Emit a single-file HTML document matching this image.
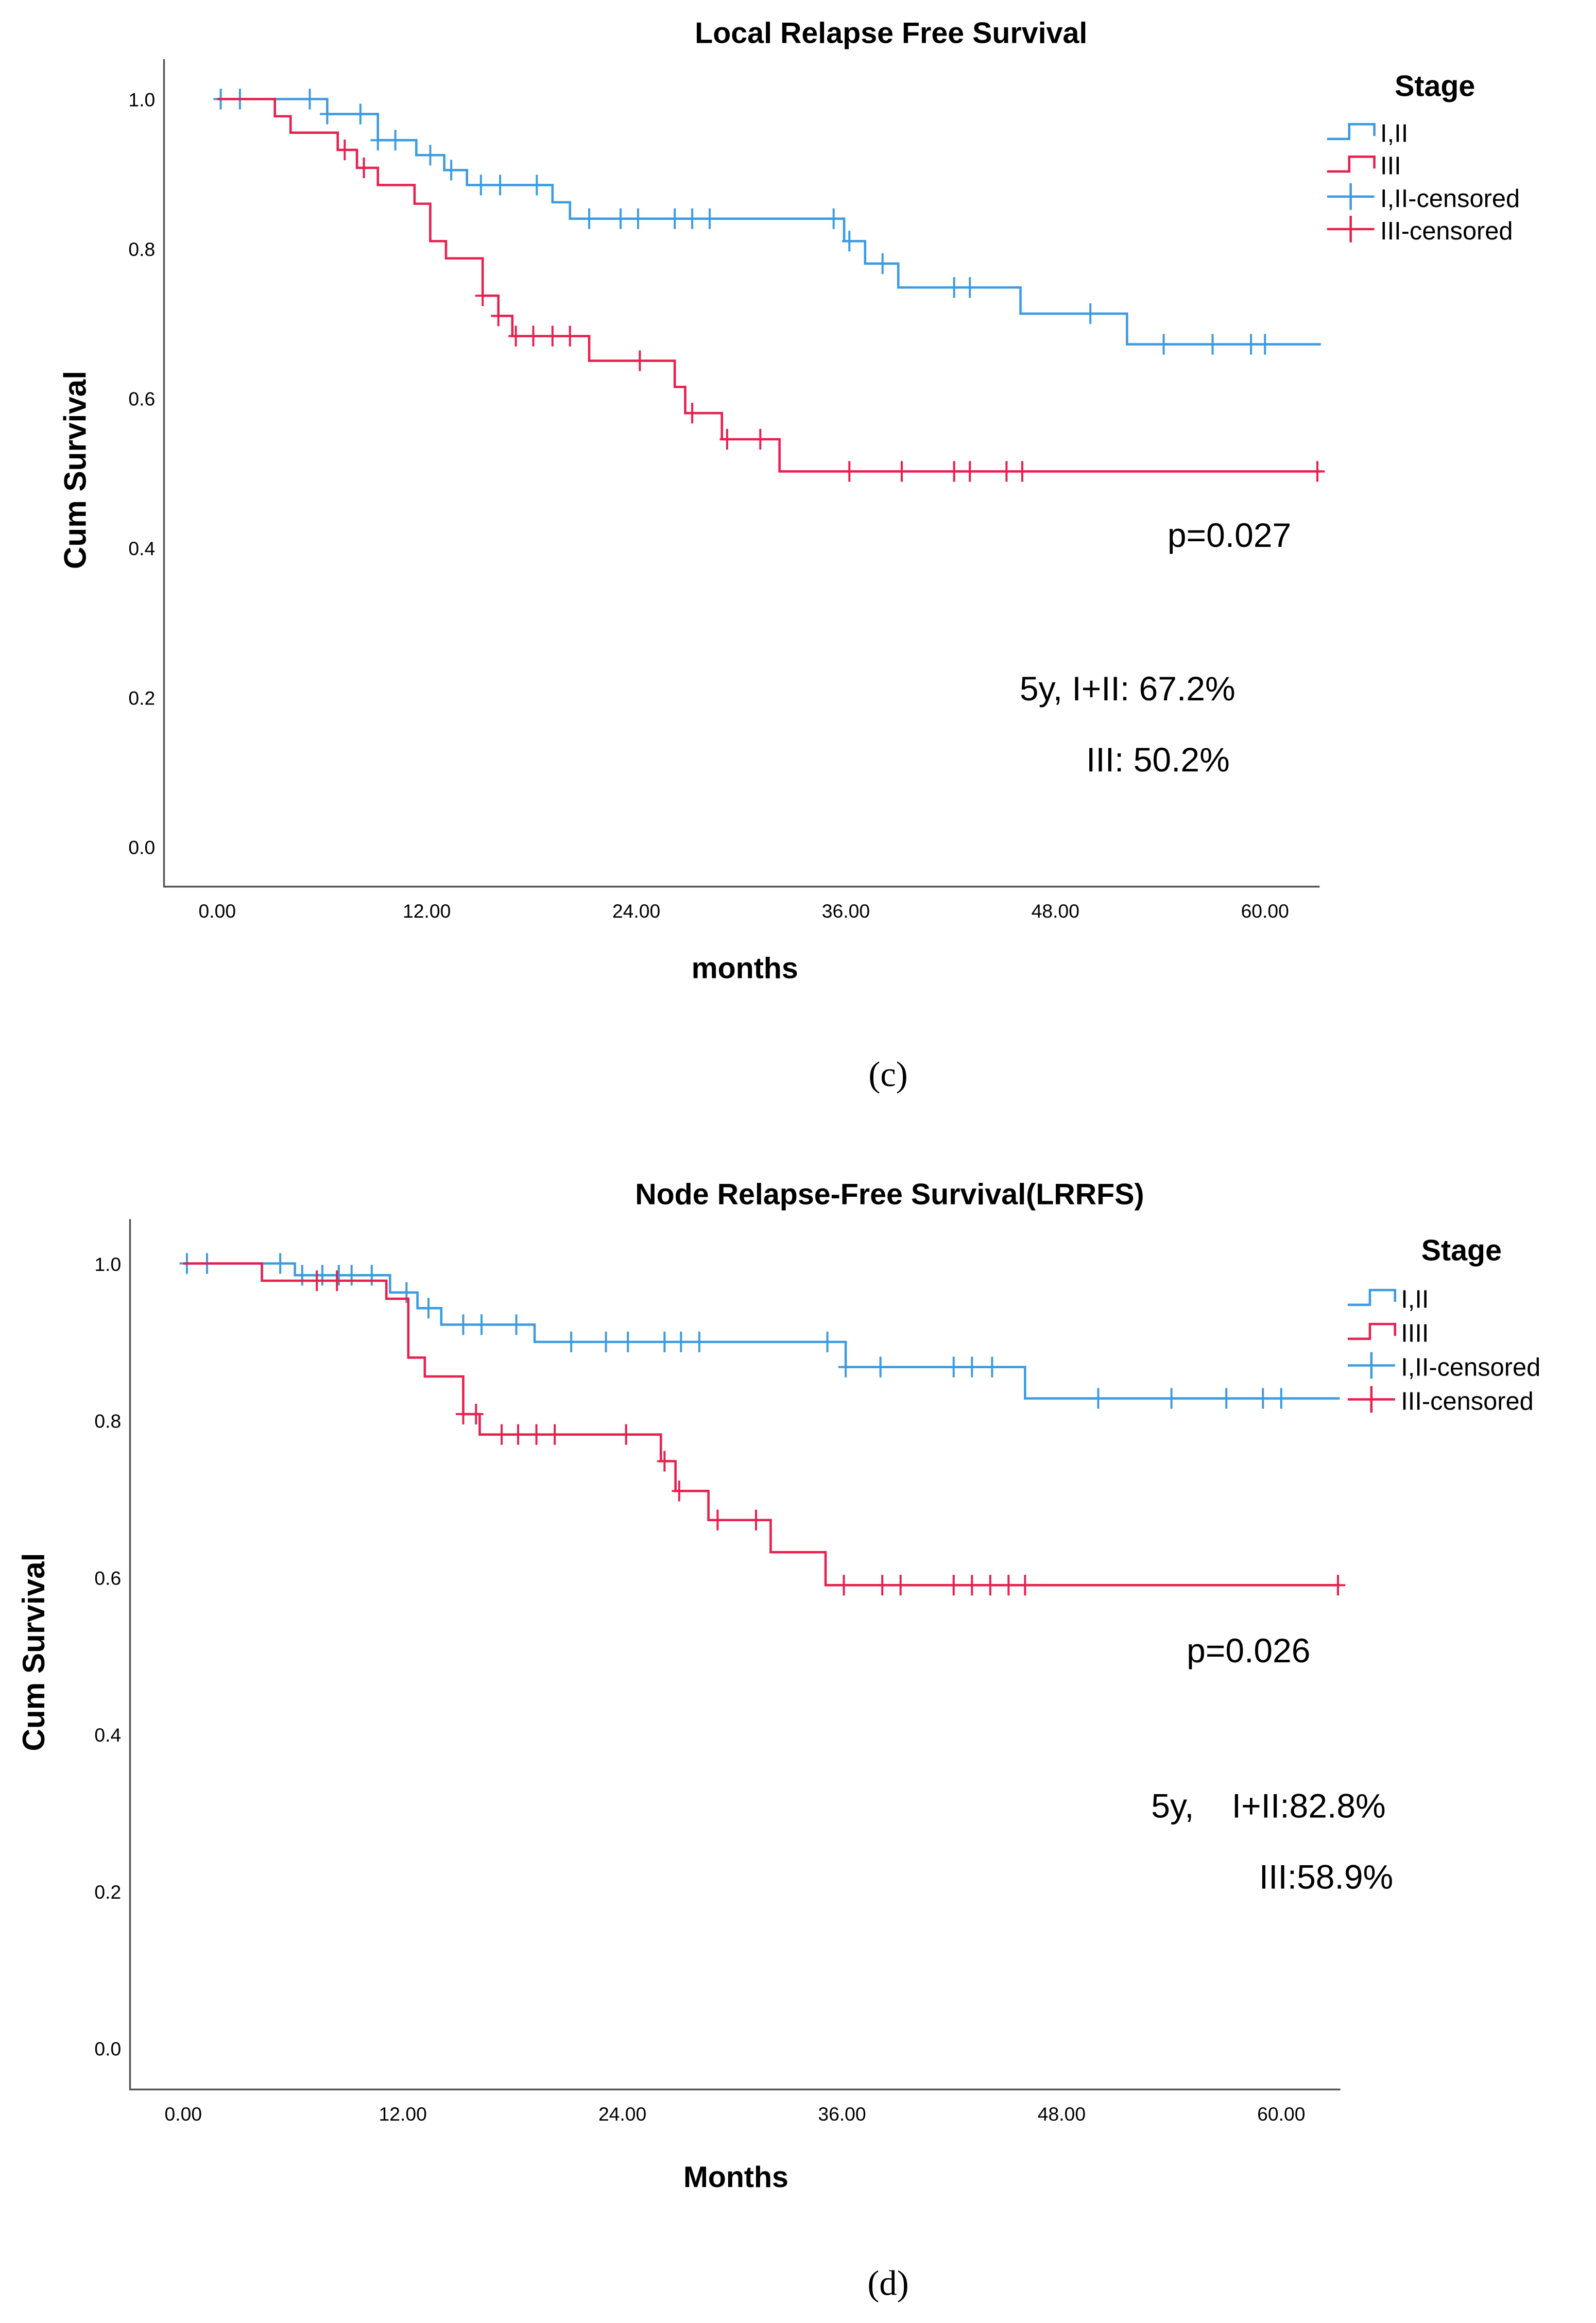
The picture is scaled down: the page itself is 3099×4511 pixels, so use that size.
<!DOCTYPE html>
<html><head><meta charset="utf-8">
<style>
html,body{margin:0;padding:0;background:#fff;}
svg{display:block;font-family:"Liberation Sans",sans-serif;}
</style></head>
<body>
<svg id="fig" width="3099" height="4511" viewBox="0 0 1080 1572" xmlns="http://www.w3.org/2000/svg">
<rect width="1080" height="1572" fill="#fff"/>
<!-- Chart C static text -->
<text x="603" y="29" font-size="20" font-weight="bold" text-anchor="middle">Local Relapse Free Survival</text>
<text transform="translate(58,318) rotate(-90)" font-size="21" font-weight="bold" text-anchor="middle">Cum Survival</text>
<text x="504" y="662" font-size="20" font-weight="bold" text-anchor="middle">months</text>
<text x="971" y="65" font-size="20" font-weight="bold" text-anchor="middle">Stage</text>
<text x="790" y="370" font-size="23">p=0.027</text>
<text x="690" y="474" font-size="23">5y, I+II: 67.2%</text>
<text x="735" y="522" font-size="23">III: 50.2%</text>
<text x="601" y="735" font-size="24" font-family="Liberation Serif, serif" text-anchor="middle">(c)</text>
<!-- Chart D static text -->
<text x="602" y="815" font-size="20" font-weight="bold" text-anchor="middle">Node Relapse-Free Survival(LRRFS)</text>
<text transform="translate(30,1118) rotate(-90)" font-size="21" font-weight="bold" text-anchor="middle">Cum Survival</text>
<text x="498" y="1480" font-size="20" font-weight="bold" text-anchor="middle">Months</text>
<text x="989" y="853" font-size="20" font-weight="bold" text-anchor="middle">Stage</text>
<text x="803" y="1125" font-size="23">p=0.026</text>
<text x="779" y="1230" font-size="23" xml:space="preserve">5y,    I+II:82.8%</text>
<text x="852" y="1278" font-size="23">III:58.9%</text>
<text x="601" y="1553" font-size="24" font-family="Liberation Serif, serif" text-anchor="middle">(d)</text>
</svg>
<script>
// ---- data: chart C ----
const xTicks = [0, 12, 24, 36, 48, 60];
const xTickLabels = ["0.00", "12.00", "24.00", "36.00", "48.00", "60.00"];
const yTicks = [0, 0.2, 0.4, 0.6, 0.8, 1.0];
const yTickLabels = ["0.0", "0.2", "0.4", "0.6", "0.8", "1.0"];
const cBlueTimes = [6.3, 9.2, 11.4, 13.0, 14.3, 19.2, 20.2, 35.9, 37.1, 39.0, 46.0, 52.1];
const cBlueSurv = [0.98, 0.945, 0.925, 0.905, 0.885, 0.862, 0.84, 0.81, 0.78, 0.748, 0.713, 0.672];
const cBlueCens = [0.2, 1.3, 5.3, 6.3, 8.2, 9.2, 10.2, 12.2, 13.4, 15.1, 16.2, 18.3, 21.3, 23.1, 24.1, 26.2, 27.2, 28.2, 35.3, 36.2, 38.1, 42.2, 43.1, 50.0, 54.2, 57.0, 59.2, 60.0];
const cRedTimes = [3.3, 4.2, 6.9, 8.0, 9.2, 11.3, 12.2, 13.1, 15.2, 16.1, 16.9, 21.3, 26.2, 26.8, 28.9, 32.2];
const cRedSurv = [0.977, 0.955, 0.932, 0.908, 0.885, 0.86, 0.81, 0.787, 0.737, 0.71, 0.683, 0.65, 0.615, 0.58, 0.545, 0.502];
const cRedCens = [7.3, 8.4, 15.2, 16.1, 17.1, 18.1, 19.2, 20.2, 24.2, 27.2, 29.2, 31.1, 36.2, 39.2, 42.2, 43.1, 45.2, 46.1, 63.0];
const cLegend = ["I,II", "III", "I,II-censored", "III-censored"];
// ---- data: chart D ----
const dBlueTimes = [6.1, 11.3, 12.8, 14.1, 19.2, 36.2, 46.0];
const dBlueSurv = [0.985, 0.963, 0.943, 0.922, 0.9, 0.868, 0.828];
const dBlueCens = [0.2, 1.3, 5.3, 6.5, 7.6, 8.5, 9.2, 10.3, 12.2, 13.4, 15.3, 16.3, 18.2, 21.2, 23.1, 24.3, 26.3, 27.2, 28.2, 35.2, 36.2, 38.1, 42.1, 43.1, 44.2, 50.0, 54.0, 57.0, 59.0, 60.0];
const dRedTimes = [4.3, 11.1, 12.3, 13.2, 15.3, 16.2, 26.1, 26.9, 28.7, 32.1, 35.1];
const dRedSurv = [0.978, 0.955, 0.88, 0.856, 0.808, 0.782, 0.748, 0.71, 0.673, 0.632, 0.59];
const dRedCens = [7.3, 8.4, 15.3, 16.0, 17.4, 18.3, 19.3, 20.3, 24.2, 26.3, 27.1, 29.2, 31.3, 36.1, 38.2, 39.2, 42.1, 43.1, 44.1, 45.1, 46.0, 63.1];
const dLegend = ["I,II", "IIII", "I,II-censored", "III-censored"];

const BLUE = "#3d9be0", RED = "#e8204f";
const NS = "http://www.w3.org/2000/svg";
const svg = document.getElementById("fig");
function mk(tag, attrs, parent) {
  const e = document.createElementNS(NS, tag);
  for (const k in attrs) e.setAttribute(k, attrs[k]);
  (parent || svg).appendChild(e);
  return e;
}
function survAt(times, surv, t) {
  let s = 1;
  for (let i = 0; i < times.length; i++) if (t >= times[i]) s = surv[i];
  return s;
}
function drawChart(p, cfg) {
  const sx = t => cfg.x0 + (t / 60) * (cfg.x60 - cfg.x0);
  const sy = v => cfg.y0 - v * (cfg.y0 - cfg.y1);
  const g = mk("g", {});
  
  
  const ax = mk("path", {d: `M${cfg.axX},${cfg.top} V${cfg.bottom} H${cfg.right}`, fill: "none", stroke: "#555", "stroke-width": 1.2}, g);
  
  
  xTicks.forEach((t, i) => {
    const tx = mk("text", {x: sx(t), y: cfg.bottom + 21, "font-size": 13, "text-anchor": "middle"}, g);
    tx.textContent = xTickLabels[i];
    
    
  });
  yTicks.forEach((v, i) => {
    const tx = mk("text", {x: cfg.axX - 6 - 0, y: sy(v) + 5, "font-size": 13, "text-anchor": "end"}, g);
    tx.textContent = yTickLabels[i];
    
    
  });
  const series = [
    {name: "stage-i-ii", times: cfg.bt, surv: cfg.bs, cens: cfg.bc, color: BLUE},
    {name: "stage-iii", times: cfg.rt, surv: cfg.rs, cens: cfg.rc, color: RED}
  ];
  series.forEach(s => {
    let d = `M${sx(0)},${sy(1)}`;
    s.times.forEach((t, i) => { d += ` H${sx(t)} V${sy(s.surv[i])}`; });
    d += ` H${sx(cfg.end)}`;
    const ln = mk("path", {d, fill: "none", stroke: s.color, "stroke-width": 1.6}, g);
    
    
    s.cens.forEach(t => {
      const x = sx(t), y = sy(survAt(s.times, s.surv, t));
      const c = mk("path", {d: `M${x},${y - 7} V${y + 7} M${x - 5},${y} H${x + 5}`, stroke: s.color, "stroke-width": 1.4}, g);
      
      
    });
  });
  // legend
  const lx = cfg.lx;
  cfg.legend.forEach((lab, i) => {
    const y = cfg.ly + i * cfg.lstep;
    const col = i % 2 === 0 ? BLUE : RED;
    let d;
    if (i < 2) d = `M${lx},${y + 5} H${lx + 15} V${y - 5} H${lx + 32} V${y + 3}`;
    else d = `M${lx},${y} H${lx + 32} M${lx + 16},${y - 9} V${y + 9}`;
    const sym = mk("path", {d, fill: "none", stroke: col, "stroke-width": 1.6}, g);
    
    
    const tx = mk("text", {x: lx + 36, y: y + 7, "font-size": 17}, g);
    tx.textContent = lab;
    
    
  });
}
drawChart("chart-c", {x0: 147, x60: 856, y0: 573, y1: 67, axX: 111, top: 40, bottom: 600, right: 893, end: 63.2,
  bt: cBlueTimes, bs: cBlueSurv, bc: cBlueCens, rt: cRedTimes, rs: cRedSurv, rc: cRedCens,
  legend: cLegend, lx: 898, ly: 89, lstep: 22});
drawChart("chart-d", {x0: 124, x60: 867, y0: 1386, y1: 855, axX: 88, top: 825, bottom: 1414, right: 907, end: 63.2,
  bt: dBlueTimes, bs: dBlueSurv, bc: dBlueCens, rt: dRedTimes, rs: dRedSurv, rc: dRedCens,
  legend: dLegend, lx: 912, ly: 878, lstep: 23});
</script>
</body></html>
